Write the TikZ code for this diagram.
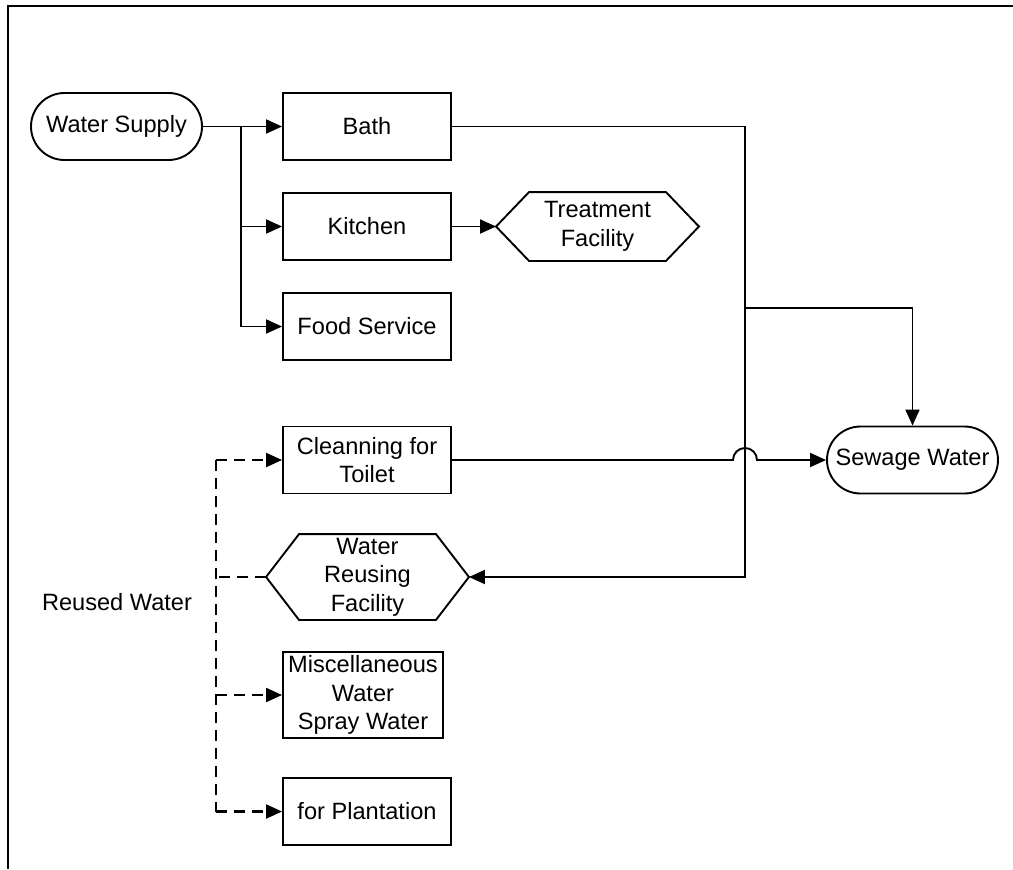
\documentclass[tikz,border=0pt]{standalone}
\usepackage{fontspec}
\setmainfont{Liberation Sans}
\usetikzlibrary{arrows.meta}
\begin{document}
\begin{tikzpicture}[x=0.5pt,y=-0.5pt,
  font=\fontsize{11.8}{14.2}\selectfont,
  line width=0.95pt,
  >={Triangle[length=8pt,width=7pt]},
  box/.style={draw, minimum width=84pt, minimum height=33.5pt, inner sep=0pt, align=center},
  term/.style={draw, rounded corners=16.75pt, minimum width=85.5pt, minimum height=33.5pt, inner sep=0pt, align=center},
  hexin/.style={minimum width=67.5pt, inner sep=0pt, align=center},
  flow/.style={->},
  reuse/.style={->, line width=1.1pt, dash pattern=on 5.5pt off 3.5pt},
  reuseline/.style={line width=1.1pt, dash pattern=on 5.5pt off 3.5pt},
  frameline/.style={line width=1.1pt}]
\useasboundingbox (0,0) rectangle (1013,869);
% frame
\coordinate (fTR) at (1013,6);
\coordinate (fTL) at (8,6);
\coordinate (fBL) at (8,869);
\draw[frameline] (fTR) -- (fTL) -- (fBL);

% nodes
\node[term] (ws) at (116.5,126.5) {Water Supply};
\node[box] (bath) at (367,126.5) {Bath};
\node[box] (kit) at (367,226.5) {Kitchen};
\node[box] (food) at (367,326.5) {Food Service};
\node[box] (toilet) at (367,460) {Cleanning for\\Toilet};
\node[box, minimum width=80pt, minimum height=43pt] (misc) at (363,695) {Miscellaneous\\Water\\Spray Water};
\node[box] (plant) at (367,811.5) {for Plantation};
\node[term] (sew) at (912.5,460) {Sewage Water};
\node (rw) at (117,602) {Reused Water};

% hexagons
\node[hexin, minimum height=33.5pt] (tf) at (597.5,226.5) {Treatment\\Facility};
\coordinate (tfL) at ([xshift=-16.5pt]tf.west);
\coordinate (tfR) at ([xshift=16.5pt]tf.east);
\draw (tf.north west) -- (tf.north east) -- (tfR) -- (tf.south east) -- (tf.south west) -- (tfL) -- cycle;

\node[hexin, minimum height=42pt] (wr) at (367.5,577) {Water\\Reusing\\Facility};
\coordinate (wrL) at ([xshift=-16.5pt]wr.west);
\coordinate (wrR) at ([xshift=16.5pt]wr.east);
\draw (wr.north west) -- (wr.north east) -- (wrR) -- (wr.south east) -- (wr.south west) -- (wrL) -- cycle;

% supply branches
\coordinate (s1) at (241,126.5);
\coordinate (s2) at (241,226.5);
\coordinate (s3) at (241,326.5);
\draw[flow] (ws.east) -- (bath.west);
\draw (s1) -- (s3);
\draw[flow] (s2) -- (kit.west);
\draw[flow] (s3) -- (food.west);
\draw[flow] (kit.east) -- (tfL);

% bath to reuse / sewage
\coordinate (b1) at (745,126.5);
\coordinate (b2) at (745,577);
\coordinate (b3) at (745,308);
\coordinate (b4) at (912.5,308);
\draw[flow] (bath.east) -- (b1) -- (b2) -- (wrR);
\draw[flow] (b3) -- (b4) -- (sew.north);

% toilet to sewage with jump
\coordinate (j1) at (733,460);
\draw[flow] (toilet.east) -- (j1) arc[start angle=180, end angle=0, radius=6pt] -- (sew.west);

% reused water dashed
\coordinate (d1) at (216,460);
\coordinate (d2) at (216,577);
\coordinate (d3) at (216,695);
\coordinate (d4) at (216,811.5);
\draw[reuseline] (d1) -- (d4);
\draw[reuse] (d1) -- (toilet.west);
\draw[reuseline] (wrL) -- (d2);
\draw[reuse] (d3) -- (misc.west);
\draw[reuse] (d4) -- (plant.west);
\end{tikzpicture}
\end{document}
